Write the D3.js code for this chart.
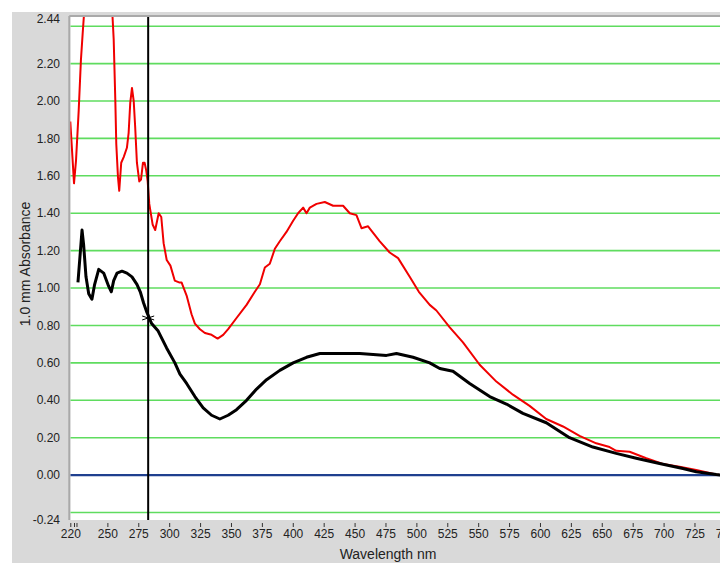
<!DOCTYPE html>
<html>
<head>
<meta charset="utf-8">
<script src="https://cdn.jsdelivr.net/npm/d3@7"></script>
<style>
  html, body { margin: 0; padding: 0; background: #fff; overflow: hidden; }
  text { font-family: "Liberation Sans", Arial, sans-serif; }
</style>
</head>
<body>
<div id="chart"></div>
<script>
// red trace (wavelength nm, absorbance)
let redNm = [220, 223, 224.6, 226.8, 228.6, 230, 232, 236, 242, 248, 253, 255.1, 256.4, 257.2, 258.6, 259.6,
    261.2, 263.2, 265.8, 267.2, 268.5, 269.9, 271.3, 272.5, 273.9, 275.8, 277.2, 278.8, 280.1, 281.4, 282.6,
    283.9, 286.6, 288.7, 291.5, 293.6, 295.5, 298, 301, 304.5, 308, 310, 314.1, 318.1, 320.8, 324.9, 328.9,
    334.3, 339.2, 343.7, 347.7, 354.5, 362.6, 369.3, 373.4, 377.4, 381.4, 385.5, 389.5, 394.9, 400.3, 404.3,
    408.4, 411.1, 413.8, 419.2, 425.9, 432.6, 440.7, 446.1, 451.5, 455.6, 460.9, 470.4, 478.4, 485.2, 494.6,
    502, 510.8, 516.2, 527, 537.7, 551.2, 564.7, 578.1, 591.6, 605.1, 618.6, 632, 645.5, 656.3, 661.7, 672.5,
    686, 699.4, 712.9, 726.4, 742.6, 760, 780];
let redA = [1.89, 1.56, 1.68, 1.95, 2.22, 2.36, 2.55, 2.9, 3.1, 3.0, 2.6, 2.33, 2.01, 1.77, 1.59, 1.52,
    1.67, 1.70, 1.75, 1.83, 1.99, 2.07, 2.00, 1.86, 1.67, 1.57, 1.58, 1.67, 1.67, 1.63, 1.57,
    1.45, 1.34, 1.31, 1.40, 1.38, 1.24, 1.15, 1.12, 1.04, 1.03, 1.03, 0.96, 0.86, 0.81, 0.78, 0.76,
    0.75, 0.73, 0.75, 0.78, 0.84, 0.91, 0.98, 1.02, 1.11, 1.13, 1.21, 1.25, 1.30, 1.36, 1.40,
    1.43, 1.40, 1.43, 1.45, 1.46, 1.44, 1.44, 1.40, 1.39, 1.32, 1.33, 1.25, 1.19, 1.16, 1.06,
    0.98, 0.91, 0.88, 0.79, 0.71, 0.59, 0.50, 0.43, 0.37, 0.30, 0.26, 0.21, 0.17, 0.15, 0.13, 0.125,
    0.09, 0.06, 0.045, 0.027, 0.003, -0.01, -0.02];

// black trace
let blackNm = [226.2, 229.5, 230.8, 232.7, 234.9, 237.5, 239.7, 243, 247, 251, 253.2, 255.1, 257.8, 261.8,
    265.8, 269.9, 273.9, 276.6, 279.3, 282, 285.8, 291.1, 297.9, 304.6, 308.7, 314.1, 320.8, 327.5, 334.3,
    341, 347.7, 354.5, 362.6, 370.7, 378.8, 389.5, 400.3, 411.1, 421.9, 438, 454.2, 475.8, 483.9, 497.3,
    510.8, 518.9, 529.6, 543.1, 559.3, 572.8, 586.2, 605.1, 623.9, 642.8, 661.7, 677.9, 696.7, 715.6,
    726.4, 742.6, 760, 780];
let blackA = [1.03, 1.31, 1.23, 1.06, 0.97, 0.94, 1.02, 1.10, 1.08, 1.01, 0.98, 1.04, 1.08, 1.09,
    1.08, 1.06, 1.02, 0.98, 0.92, 0.87, 0.81, 0.77, 0.68, 0.60, 0.54, 0.49, 0.42, 0.36, 0.32,
    0.30, 0.32, 0.35, 0.40, 0.46, 0.51, 0.56, 0.60, 0.63, 0.65, 0.65, 0.65, 0.64, 0.65, 0.63,
    0.60, 0.57, 0.555, 0.49, 0.42, 0.38, 0.33, 0.28, 0.20, 0.15, 0.116, 0.09, 0.062, 0.035,
    0.018, 0.003, -0.01, -0.02];

let xTicks = [220, 223, 225, 250, 275, 300, 325, 350, 375, 400, 425, 450, 475, 500, 525, 550, 575,
    600, 625, 650, 675, 700, 725, 750, 775];
let yLabels = [-0.24, 0.00, 0.20, 0.40, 0.60, 0.80, 1.00, 1.20, 1.40, 1.60, 1.80, 2.00, 2.20, 2.44];
let gridLevels = [-0.2, 0.2, 0.4, 0.6, 0.8, 1.0, 1.2, 1.4, 1.6, 1.8, 2.0, 2.2, 2.4];
let cursorNm = 283;
let cursorA = 0.84;

let width = 800;
let height = 563;
let plotLeft = 70.3, plotTop = 17, plotBottom = 520;

let x = d3.scaleLinear().domain([220, 780]).range([plotLeft, plotLeft + 560 * 1.236]);
let y = d3.scaleLinear().domain([-0.24, 2.44]).range([plotBottom, plotTop + 1.7]);

let svg = d3.select("#chart")
    .append("svg")
    .attr("width", width)
    .attr("height", height);

// grey window frame
svg.append("rect")
    .attr("x", 12).attr("y", 12)
    .attr("width", width).attr("height", height)
    .attr("fill", "#d9d9d9");

svg.append("rect")
    .attr("x", plotLeft).attr("y", plotTop)
    .attr("width", width - plotLeft).attr("height", plotBottom - plotTop)
    .attr("fill", "#fff");

// plot border shadow
svg.append("line")
    .attr("x1", plotLeft - 1).attr("x2", width)
    .attr("y1", plotTop - 1).attr("y2", plotTop - 1)
    .attr("stroke", "#a9a9a9").attr("stroke-width", 2);
svg.append("line")
    .attr("x1", plotLeft - 1).attr("x2", plotLeft - 1)
    .attr("y1", plotTop - 1).attr("y2", plotBottom)
    .attr("stroke", "#a9a9a9").attr("stroke-width", 2);

svg.append("clipPath").attr("id", "plot-clip")
    .append("rect")
    .attr("x", plotLeft).attr("y", plotTop)
    .attr("width", width - plotLeft).attr("height", plotBottom - plotTop);

let plot = svg.append("g").attr("clip-path", "url(#plot-clip)");

plot.selectAll(".grid")
    .data(gridLevels)
    .enter().append("line")
    .attr("class", "grid")
    .attr("x1", plotLeft).attr("x2", width)
    .attr("y1", d => y(d)).attr("y2", d => y(d))
    .attr("stroke", "#5fdc5f")
    .attr("stroke-width", 1.6);

plot.append("line")
    .attr("x1", plotLeft).attr("x2", width)
    .attr("y1", y(0)).attr("y2", y(0))
    .attr("stroke", "#1f3f8f")
    .attr("stroke-width", 2.2);

let line = d3.line()
    .x(d => x(d[0]))
    .y(d => y(d[1]));

plot.append("path")
    .datum(redNm.map((d, i) => [d, redA[i]]))
    .attr("d", line)
    .attr("fill", "none")
    .attr("stroke", "#f00000")
    .attr("stroke-width", 2)
    .attr("stroke-linejoin", "round");

plot.append("path")
    .datum(blackNm.map((d, i) => [d, blackA[i]]))
    .attr("d", line)
    .attr("fill", "none")
    .attr("stroke", "#000")
    .attr("stroke-width", 3)
    .attr("stroke-linejoin", "round");

// cursor
plot.append("line")
    .attr("x1", x(cursorNm)).attr("x2", x(cursorNm))
    .attr("y1", plotTop).attr("y2", plotBottom)
    .attr("stroke", "#000")
    .attr("stroke-width", 2);

let cx = x(cursorNm), cy = y(cursorA);
plot.append("path")
    .attr("d", `M${cx - 6},${cy - 2}L${cx + 6},${cy + 2}M${cx - 6},${cy + 2}L${cx + 6},${cy - 2}`)
    .attr("stroke", "#000")
    .attr("stroke-width", 1);

// y labels
svg.selectAll(".ylab")
    .data(yLabels)
    .enter().append("text")
    .attr("class", "ylab")
    .attr("x", 60)
    .attr("y", d => y(d))
    .attr("dy", "0.35em")
    .attr("text-anchor", "end")
    .style("font-size", "12px")
    .attr("fill", "#222")
    .text(d => d.toFixed(2));

// x axis
let xAxis = d3.axisBottom(x)
    .tickValues(xTicks)
    .tickSize(4)
    .tickPadding(2)
    .tickFormat(d => (d === 223 || d === 225) ? "" : d);

let gx = svg.append("g")
    .attr("transform", "translate(0," + (plotBottom + 3) + ")")
    .call(xAxis);
gx.select(".domain").remove();
gx.selectAll("line").attr("stroke", "#333");
gx.selectAll("text")
    .style("font-size", "12px")
    .style("font-family", "'Liberation Sans', Arial, sans-serif")
    .attr("fill", "#222");

svg.append("text")
    .attr("x", 388)
    .attr("y", 559)
    .attr("text-anchor", "middle")
    .style("font-size", "14px")
    .attr("fill", "#222")
    .text("Wavelength nm");

svg.append("text")
    .attr("transform", "translate(30,264) rotate(-90)")
    .attr("text-anchor", "middle")
    .style("font-size", "14px")
    .attr("fill", "#222")
    .text("1.0 mm Absorbance");
</script>
</body>
</html>
